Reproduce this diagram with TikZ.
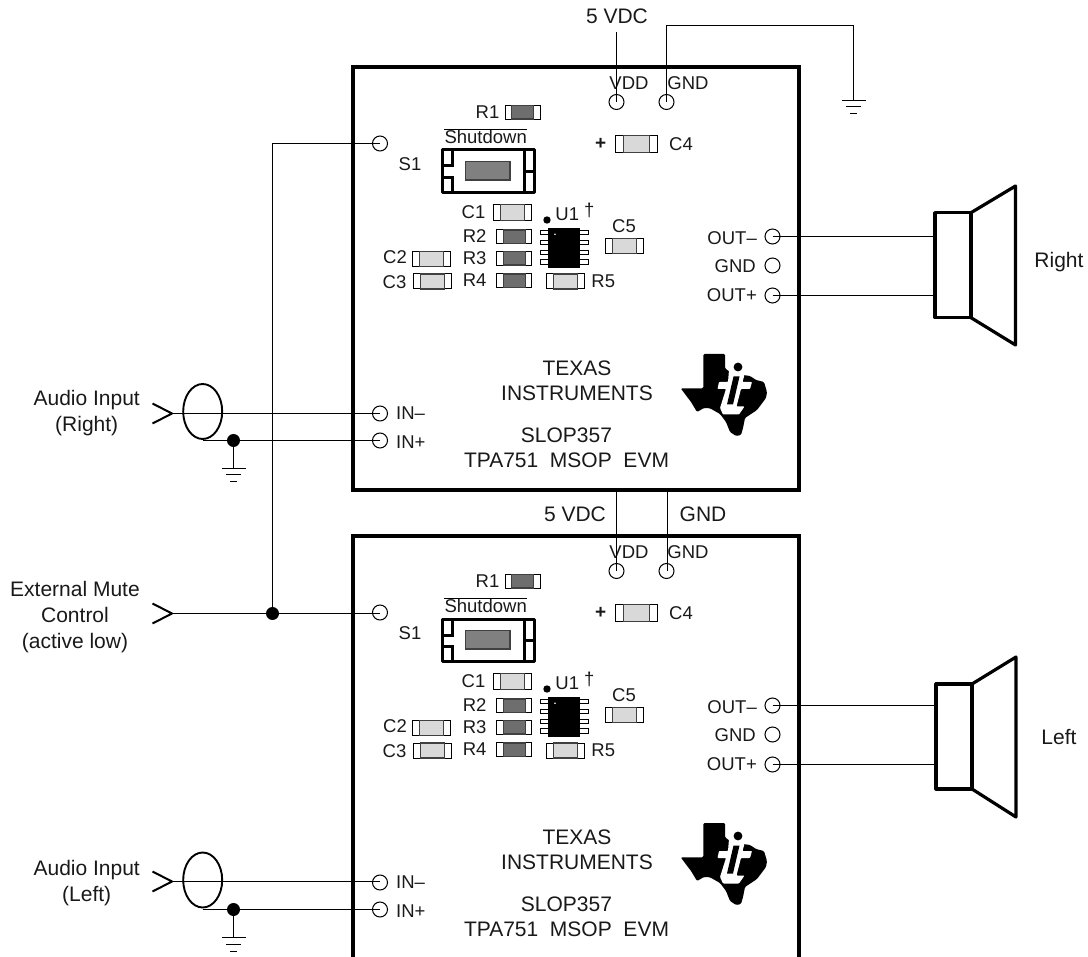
\documentclass[tikz,border=0pt]{standalone}
\usepackage{fontspec}
\usetikzlibrary{shapes.geometric}
\setmainfont{Liberation Sans}
\definecolor{chipdark}{HTML}{6E6E6E}
\definecolor{chiplight}{HTML}{D9D9D9}
\definecolor{swgray}{HTML}{808080}
\tikzset{
  x=1pt,y=-1pt,
  wire/.style={line width=1pt,black},
  thick board/.style={line width=3.8pt,black},
  spk/.style={line width=3.2pt,black,line join=round,line cap=round},
  spkbox/.style={draw=black,line width=3.2pt,line join=round,minimum width=36pt,minimum height=105pt,inner sep=0pt,outer sep=0pt},
  chev/.style={line width=2pt,black},
  pad/.style={circle,draw=black,line width=1pt,fill=white,minimum size=15pt,inner sep=0pt,outer sep=0pt},
  dotj/.style={circle,fill=black,minimum size=13pt,inner sep=0pt,outer sep=0pt},
  shield/.style={ellipse,draw=black,line width=1.9pt,minimum width=39pt,minimum height=55pt,inner sep=0pt,outer sep=0pt},
  lab/.style={font=\fontsize{18.5pt}{20pt}\selectfont,inner sep=0pt,text=black!90},
  big/.style={font=\fontsize{21pt}{24pt}\selectfont,inner sep=0pt,text=black!90,align=center},
  capb/.style={draw=black,line width=1pt,fill=white,inner sep=0pt,outer sep=0pt},
  capi/.style={draw=black!75,line width=1.2pt,inner sep=0pt,outer sep=0pt},
  pinb/.style={draw=black,line width=0.9pt,fill=white,inner sep=0pt,minimum width=9pt,minimum height=4.4pt},
  gl/.style={line width=1pt,black},
  gnds/.pic={
    \draw[gl] (-12,0) -- (12,0) (-7.5,6.5) -- (7.5,6.5) (-3.5,13.5) -- (3.5,13.5);
  },
  board/.pic={
    \node[pad] (-vdd) at (616.5,102) {};
    \node[pad] (-gnd) at (666.5,102) {};
    \node[pad] (-s1) at (380,143.5) {};
    \node[pad] (-inm) at (380,413.5) {};
    \node[pad] (-inp) at (380,440.5) {};
    \node[pad] (-outm) at (772.5,236.5) {};
    \node[pad] (-outg) at (772.5,265.5) {};
    \node[pad] (-outp) at (772.5,295.5) {};
    \node[lab] (-lvdd) at (629,83) {VDD};
    \node[lab] (-lgnd) at (688,83) {GND};
    \node[lab] (-lr1) at (487.5,112) {R1};
    \node[lab] (-ls1) at (410,164) {S1};
    \node[lab] (-lsd) at (485.7,137) {Shutdown};
    \draw[line width=1pt] (444,129.5) -- (527,129.5);
    \node[lab,font=\fontsize{19pt}{20pt}\bfseries\selectfont] (-lplus) at (600.7,144) {+};
    \node[lab] (-lc4) at (681,144) {C4};
    \node[lab] (-lc1) at (473.5,212) {C1};
    \node[lab] (-lr2) at (474.7,236) {R2};
    \node[lab] (-lr3) at (474.7,258) {R3};
    \node[lab] (-lr4) at (474.7,280) {R4};
    \node[lab] (-lc2) at (395,257) {C2};
    \node[lab] (-lc3) at (394.5,282) {C3};
    \node[lab] (-lr5) at (603.3,281.5) {R5};
    \node[lab] (-lc5) at (624,226) {C5};
    \node[lab] (-lu1) at (567.3,214) {U1};
    \node[lab] (-ldag) at (589.3,210) {†};
    \node[lab,anchor=west] (-linm) at (396,413) {IN–};
    \node[lab,anchor=west] (-linp) at (396,442) {IN+};
    \node[lab,anchor=east] (-loutm) at (757,238) {OUT–};
    \node[lab,anchor=east] (-loutg) at (756,266) {GND};
    \node[lab,anchor=east] (-loutp) at (757,295.5) {OUT+};
    \node[big] (-ltex) at (577,368) {TEXAS};
    \node[big] (-lins) at (577,393) {INSTRUMENTS};
    \node[big] (-lslop) at (566.5,435) {SLOP357};
    \node[big] (-ltpa) at (566.5,460) {TPA751\ \ MSOP\ \ EVM};
    \foreach \nm/\cx/\cy/\w/\h/\iw/\col in {
      r1/522.5/112.3/35/13.5/22/chipdark,
      c4/636.3/143.7/42/17/26/chiplight,
      c1/512.8/212.7/37.7/15.7/24/chiplight,
      r2/514.2/236.7/35/13.5/22/chipdark,
      r3/514.2/258.3/35/13.5/22/chipdark,
      r4/514.2/280.7/35/13.5/22/chipdark,
      c2/431.7/259.2/38/15/24/chiplight,
      c3/432.8/281.5/38/15/24/chiplight,
      r5/565.3/281.5/37.5/15/24/chiplight,
      c5/624.7/245.8/38/15/24/chiplight}{
      \node[capb,minimum width=\w pt,minimum height=\h pt] (-\nm) at (\cx,\cy) {};
      \node[capi,fill=\col,minimum width=\iw pt,minimum height=\h pt] (-\nm i) at (\cx,\cy) {};
    }
    \draw[line width=3pt,line join=round] (442,150) rectangle (534,192.7);
    \draw[line width=3pt] (452.7,150) -- (452.7,166) -- (442,166);
    \draw[line width=3pt] (442,177.3) -- (452.7,177.3) -- (452.7,192.7);
    \draw[line width=3pt] (524,150) -- (524,192.7);
    \draw[line width=3pt] (524,171.7) -- (534,171.7);
    \fill[swgray,draw=black!75,line width=1.2pt] (465.3,161.7) rectangle (510,180);
    \foreach \py in {232.7,242.7,252.7,262}{
      \node[pinb] at (544.5,\py) {};
      \node[pinb] at (584,\py) {};
    }
    \fill (548.3,227.7) rectangle (580,268.3);
    \fill[white] (555,234.3) circle (0.9);
    \fill (547,220) circle (3.7);
    \fill[black,rounded corners=1.2pt] (703.3,354) -- (725,354) -- (725,368.3) -- (730,372) -- (743.3,375) -- (750,376) -- (756,380) -- (764,382)
      -- (767,392) -- (766,398) -- (757,410) -- (745,418) -- (743,428) -- (741,435) -- (736,436) -- (730,432)
      -- (726,422) -- (720,414) -- (710,408.3) -- (704,408) -- (697,412) -- (691,402) -- (680.7,388.3) -- (703.3,388.3) -- cycle;
    \fill[white,rounded corners=0.8pt] (729,370) -- (745,373) -- (742.5,382) -- (752,382) -- (750,389) -- (741,389) -- (736.5,406.5) -- (744.5,406.5)
      -- (739,414.5) -- (723,414.5) -- (720,408) -- (726,389) -- (717.5,389) -- (719,382) -- (728,382) -- cycle;
    \fill[black] (733.5,376.5) -- (739.5,376.5) -- (733,404.5) -- (727,404.5) -- cycle;
    \fill[black] (738,367) circle (4.4);
  }
}
\begin{document}
\begin{tikzpicture}
\useasboundingbox (0,0) rectangle (1088,957);
\draw[thick board] (353,67) rectangle (799,490);
\draw[thick board] (353,957) -- (353,536) -- (799,536) -- (799,957);
\pic (T) at (0,0) {board};
\pic (B) at (0,469) {board};
\coordinate (topg) at (666.5,25.5);
\coordinate (topgr) at (853.5,25.5);
\coordinate (gr1) at (853.5,100.5);
\coordinate (v5) at (616.5,32);
\coordinate (midv) at (616.5,490);
\coordinate (midg) at (667.5,490);
\coordinate (inr1) at (172,413.5);
\coordinate (inl1) at (172,881.5);
\coordinate (mute) at (172,613.5);
\coordinate (sht) at (272.5,143.5);
\coordinate (gjr) at (233.5,468.5);
\coordinate (gjl) at (233.5,937.5);
% top wires
\node[big] (l5v) at (617,16) {5 VDC};
\draw[wire] (v5) -- (T-vdd.center);
\draw[wire] (T-gnd.center) -- (topg) -- (topgr) -- (gr1);
\pic at (gr1) {gnds};
\node[big] (l5vm) at (575,514) {5 VDC};
\node[big] (lgm) at (703,514) {GND};
\draw[wire] (midv) -- (B-vdd.center);
\draw[wire] (midg) -- (midg |- B-gnd.center);
% inputs
\node[shield] (er) at (202.7,411.5) {};
\node[shield] (el) at (202.7,880) {};
\node[dotj] (jr) at (233.5,440.5) {};
\node[dotj] (jm) at (272.5,613.5) {};
\node[dotj] (jl) at (233.5,909.5) {};
\draw[wire] (inr1) -- (T-inm.center);
\draw[wire] (er.south |- T-inp.center) -- (T-inp.center);
\draw[wire] (inl1) -- (B-inm.center |- inl1);
\draw[wire] (el.south |- jl) -- (B-inp.center |- jl);
\draw[wire] (mute) -- (B-s1.center |- mute);
\draw[wire] (jm) -- (sht) -- (T-s1.center);
\draw[wire] (jr) -- (gjr);
\draw[wire] (jl) -- (gjl);
\pic at (gjr) {gnds};
\pic at (gjl) {gnds};
\draw[chev] (152.5,403.5) -- (172,413.5) -- (152.5,423.5);
\draw[chev] (152.5,603.5) -- (172,613.5) -- (152.5,623.5);
\draw[chev] (152.5,871.5) -- (172,881.5) -- (152.5,891.5);
\node[big] (lar) at (86.7,413) {Audio Input\\[2pt](Right)};
\node[big] (lmu) at (75,616.7) {External Mute\\[2pt]Control\\[2pt](active low)};
\node[big] (lal) at (86.7,883.5) {Audio Input\\[2pt](Left)};
% speakers
\node[spkbox] (sr) at (953,265.2) {};
\draw[spk] (sr.north east) -- (1015.5,186) -- (1015.5,345) -- (sr.south east);
\node[spkbox] (sl) at (954,736.5) {};
\draw[spk] (sl.north east) -- (1016,657) -- (1016,817) -- (sl.south east);
\draw[wire] (T-outm.center) -- (T-outm.center -| sr.west);
\draw[wire] (T-outp.center) -- (T-outp.center -| sr.west);
\draw[wire] (B-outm.center) -- (B-outm.center -| sl.west);
\draw[wire] (B-outp.center) -- (B-outp.center -| sl.west);
\node[big] (lright) at (1059,262) {Right};
\node[big] (lleft) at (1059,737) {Left};
\end{tikzpicture}
\end{document}
